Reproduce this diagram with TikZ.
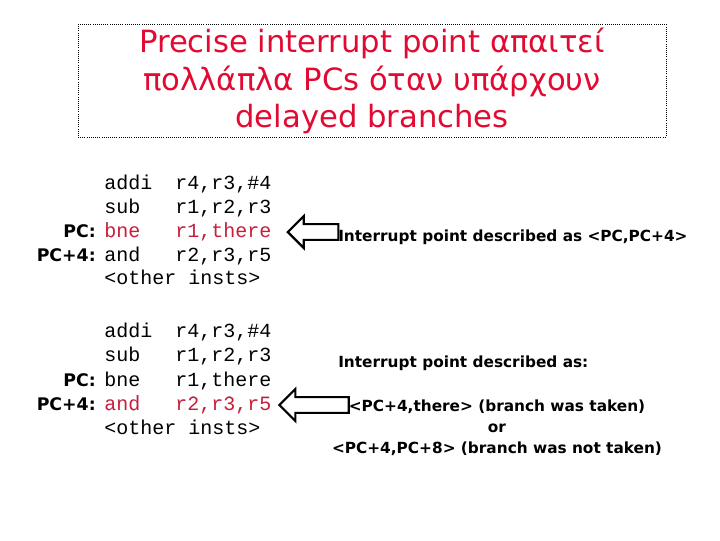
\documentclass[tikz,border=0pt]{standalone}
\usepackage{fontspec}
\setmainfont{DejaVu Sans}
\setmonofont{Liberation Mono}
\usetikzlibrary{shapes.arrows}
\definecolor{titlered}{RGB}{225,10,50}
\definecolor{codered}{RGB}{200,30,60}
\tikzset{
  code/.style={anchor=base west, font=\fontsize{15}{18}\ttfamily, inner sep=0pt},
  pclabel/.style={anchor=base east, font=\fontsize{13}{16}\bfseries, inner sep=0pt},
  note/.style={font=\fontsize{11.5}{14}\bfseries, inner sep=0pt},
  hollowarrow/.style={single arrow, draw, line width=1.6pt, shape border rotate=180,
    minimum height=#1, minimum width=24pt, single arrow head extend=5pt, inner sep=4pt, single arrow tip angle=90}
}
\begin{document}
\begin{tikzpicture}[x=0.75pt,y=-0.75pt]
\useasboundingbox (0,0) rectangle (720,540);
% title frame
\draw[densely dotted, line width=0.6pt] (78,24) rectangle (666,137);
\node[font=\fontsize{23}{28}\selectfont, text=titlered, align=center] (title) at (372,81)
  {Precise interrupt point απαιτεί\\πολλάπλα PCs όταν υπάρχουν\\delayed branches};
% first block
\foreach \y/\a/\b [count=\i] in {189/addi/{r4,r3,\#4},213/sub/{r1,r2,r3},237/bne/{r1,there},261/and/{r2,r3,r5}}{
  \node[code] (ia\i) at (104,\y) {\a};
  \node[code] (oa\i) at (175,\y) {\b};
}
\node[code] (ia5) at (104,284) {<other insts>};
\node[code, text=codered, fill=white] at (ia3.base west) {bne};
\node[code, text=codered, fill=white] at (oa3.base west) {r1,there};
\node[pclabel] (pca) at (96,237) {PC:};
\node[pclabel] (pcfa) at (96,261) {PC+4:};
\node[hollowarrow=38pt] (arra) at (317,232) {};
\node[note, anchor=west] (noa) at (338,237) {Interrupt point described as <PC,PC+4>};
% second block
\foreach \y/\a/\b [count=\i] in {337/addi/{r4,r3,\#4},361/sub/{r1,r2,r3},386/bne/{r1,there},410/and/{r2,r3,r5}}{
  \node[code] (ib\i) at (104,\y) {\a};
  \node[code] (ob\i) at (175,\y) {\b};
}
\node[code] (ib5) at (104,434) {<other insts>};
\node[code, text=codered, fill=white] at (ib4.base west) {and};
\node[code, text=codered, fill=white] at (ob4.base west) {r2,r3,r5};
\node[pclabel] (pcb) at (96,386) {PC:};
\node[pclabel] (pcfb) at (96,410) {PC+4:};
\node[hollowarrow=52pt] (arrb) at (318,405) {};
\node[note, anchor=west] (nob) at (338,363) {Interrupt point described as:};
\node[note] (nob1) at (497,407) {<PC+4,there> (branch was taken)};
\node[note] (nob2) at (497,428) {or};
\node[note] (nob3) at (497,449) {<PC+4,PC+8> (branch was not taken)};
\end{tikzpicture}
\end{document}
